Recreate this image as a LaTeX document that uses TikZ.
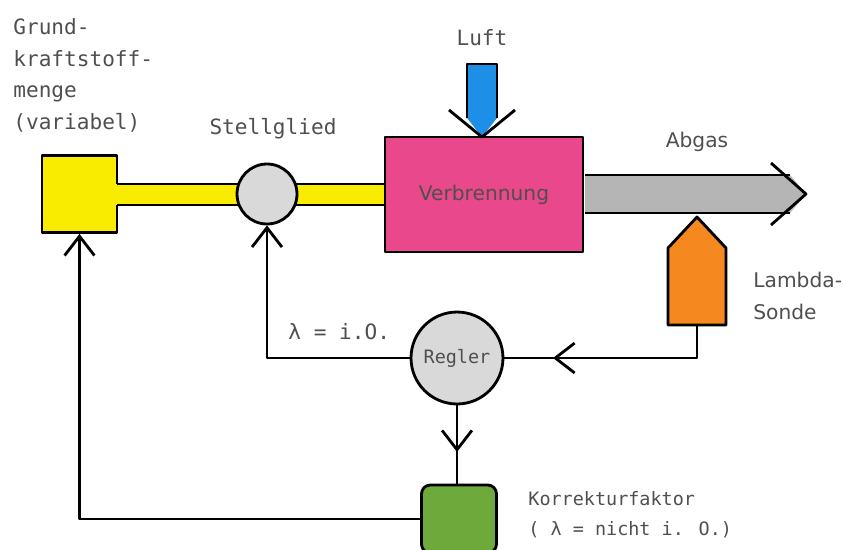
\documentclass[tikz,border=0pt]{standalone}
\usepackage{fontspec}
\setmainfont{DejaVu Sans}
\newfontfamily\schreibmono{DejaVu Sans Mono}
\usetikzlibrary{positioning,arrows.meta}

\definecolor{gelb}{HTML}{F9EC00}
\definecolor{kreisgrau}{HTML}{D9D9D9}
\definecolor{verbrpink}{HTML}{E9488C}
\definecolor{luftblau}{HTML}{1E8FE6}
\definecolor{abgasgrau}{HTML}{B5B5B5}
\definecolor{sondeorange}{HTML}{F5891F}
\definecolor{korrgruen}{HTML}{6DA93B}
\definecolor{schrift}{HTML}{4F4F4F}

\begin{document}
\begin{tikzpicture}[x=0.02cm, y=-0.02cm, line width=1.6pt, line join=round,
  txt/.style={text=schrift, inner sep=0pt},
  mono/.style={txt, font=\schreibmono\fontsize{12}{18}\selectfont},
  monoklein/.style={txt, font=\schreibmono\fontsize{10.5}{17}\selectfont},
  sans/.style={txt, font=\fontsize{11.5}{18}\selectfont},
  pfeil/.style={-{Straight Barb[length=11pt,width=17pt]}},
  kreis/.style={circle, draw, fill=kreisgrau, inner sep=0pt}]

\useasboundingbox (0,0) rectangle (843,549);
\clip (0,0) rectangle (843,549);

% Kraftstoff
\node[draw, fill=gelb, minimum width=1.5cm, minimum height=1.54cm] (gelbbox) at (79.5,194) {};
\fill[gelb] (110,184) rectangle (386,205);
\draw (117,184) -- (386,184);
\draw (117,205) -- (386,205);

% Stellglied and Verbrennung
\node[kreis, minimum size=1.2cm] (stell) at (267,194) {};
\node[draw, fill=verbrpink, minimum width=3.96cm, minimum height=2.3cm,
  sans, text=schrift] (verbr) at (484,194.5) {Verbrennung};

% Luft
\coordinate (luftspitze) at (482,137);
\fill[luftblau] (467,64) -- (497,64) -- (497,118) -- (luftspitze) -- (467,118) -- cycle;
\draw (467,118) -- (467,64) -- (497,64) -- (497,118);
\draw (luftspitze) ++(-33,-27) -- (luftspitze) -- ++(33,-27);

% Abgas
\coordinate (abgasspitze) at (806,194);
\fill[abgasgrau] (585,175) -- (790,175) -- (abgasspitze) -- (790,213) -- (585,213) -- cycle;
\draw (585,175) -- (790,175);
\draw (585,213) -- (790,213);
\draw (abgasspitze) ++(-35,-31) -- (abgasspitze) -- ++(-35,31);

% Lambda-Sonde
\draw[fill=sondeorange] (668,325) -- (668,248) -- (697,217) -- (726,248) -- (726,325) -- cycle;
\coordinate (sonde) at (697,325);

% Regler and Korrekturfaktor
\node[kreis, minimum size=1.84cm, monoklein] (regler) at (457,358) {Regler};
\node[draw, fill=korrgruen, rounded corners=5pt, minimum width=1.5cm,
  minimum height=1.36cm] (korr) at (459,519) {};

% Connectors
\coordinate (rueckspitze) at (553,358);
\coordinate (korrspitze) at (457,452);
\draw (sonde) |- (regler.east);
\draw[pfeil] (sonde |- regler.east) -- (rueckspitze);
\draw[pfeil] (regler.west) -| (stell.south);
\draw (regler.south) -- (regler.south |- korr.north);
\draw[pfeil] (regler.south) -- (korrspitze);
\draw[pfeil] (korr.west) -| (gelbbox.south);

% Labels
\node[mono, anchor=north west, align=left] (grundtext) at (12,17) {Grund-\\kraftstoff-\\menge\\(variabel)};
\node[mono, above=0.45cm of stell, xshift=0.12cm] (stelltext) {Stellglied};
\node[mono] (lufttext) at (482,38) {Luft};
\node[sans] (abgastext) at (697,142) {Abgas};
\node[sans, anchor=west, align=left] (sondetext) at (752,296) {Lambda-\\Sonde};
\node[mono, anchor=west] (lambdatext) at (287,332) {λ = i.O.};
\node[monoklein, anchor=west, align=left] (korrtext) at (527,515) {Korrekturfaktor\\( λ = nicht i. O.)};

\end{tikzpicture}
\end{document}
